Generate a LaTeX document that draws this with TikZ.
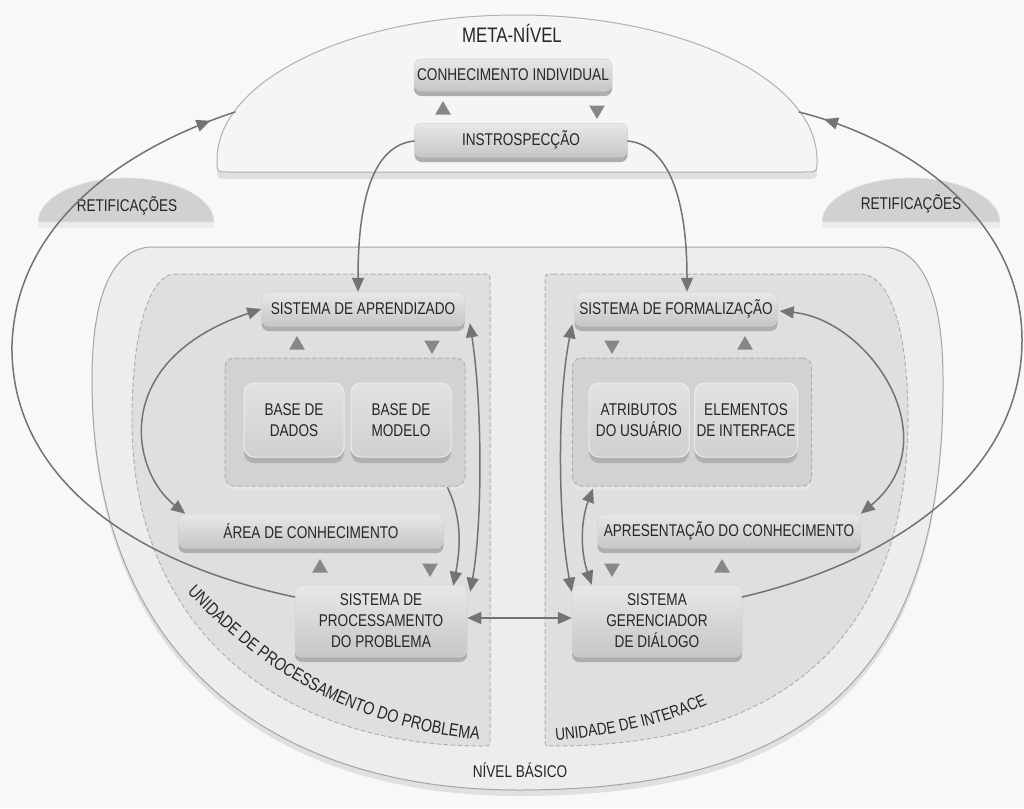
\documentclass[tikz,border=0pt]{standalone}
\usepackage{fontspec}
\setmainfont{Liberation Sans}[FakeStretch=0.8]
\usetikzlibrary{arrows.meta,shapes.geometric,shadows,calc,decorations.markings,decorations.text}

\definecolor{bgc}{HTML}{F8F8F8}
\definecolor{basefill}{HTML}{EDEDED}
\definecolor{baseedge}{HTML}{A4A4A4}
\definecolor{unitfill}{HTML}{DFDFDF}
\definecolor{unitedge}{HTML}{B0B0B0}
\definecolor{contfill}{HTML}{D2D2D2}
\definecolor{boxtop}{HTML}{E8E8E8}
\definecolor{boxbot}{HTML}{C6C6C6}
\definecolor{boxedge}{HTML}{D4D4D4}
\definecolor{shadec}{HTML}{AEAEAE}
\definecolor{linec}{HTML}{737373}
\definecolor{tric}{HTML}{878787}
\definecolor{txt}{HTML}{262626}
\definecolor{domefill}{HTML}{F5F5F5}
\definecolor{domeedge}{HTML}{B0B0B0}
\definecolor{retfill}{HTML}{D1D1D1}
\definecolor{basetop}{HTML}{E2E2E2}
\definecolor{basebot}{HTML}{D0D0D0}

\newcommand\lblfont{\fontsize{17}{21}\selectfont}
\newcommand\curvefont{\fontsize{18}{21}\selectfont}
\newcommand\titlefont{\fontsize{21}{25}\selectfont}

\begin{document}
\begin{tikzpicture}[x=1pt,y=-1pt,line cap=round,
  ht/.tip={Triangle[length=14pt,width=12pt]},
  box/.style={draw=boxedge, line width=0.5pt, rounded corners=7pt,
    top color=boxtop, bottom color=boxbot,
    drop shadow={shadow xshift=0pt, shadow yshift=-5pt, fill=shadec, opacity=1},
    font=\lblfont, text=txt, align=center, inner sep=2pt},
  basebox/.style={draw=white!85!gray, line width=1pt, rounded corners=10pt,
    top color=basetop, bottom color=basebot,
    drop shadow={shadow xshift=0pt, shadow yshift=-6pt, fill=shadec, opacity=0.9},
    font=\lblfont, text=txt, align=center, inner sep=2pt},
  container/.style={draw=unitedge, line width=1pt, dash pattern=on 4pt off 3pt,
    rounded corners=9pt, fill=contfill,
    drop shadow={shadow xshift=0pt, shadow yshift=-4pt, fill=black!10, opacity=1}},
  unit/.style={fill=unitfill, draw=unitedge, line width=1pt, dash pattern=on 4pt off 3pt},
  tri/.style={regular polygon, regular polygon sides=3, fill=tric,
    minimum size=18pt, inner sep=0pt},
  trid/.style={tri, shape border rotate=180},
  link/.style={draw, color=linec, line width=1.5pt},
  bigarc/.style={postaction={decorate},
    decoration={markings, mark=at position -26pt with {\arrow{ht}}}},
  plain/.style={font=\lblfont, text=txt, align=center}
]
\useasboundingbox (0,0) rectangle (1024,808);
\fill[bgc] (0,0) rectangle (1024,808);

% basic level
\filldraw[fill=basefill, draw=baseedge, line width=1pt,
  drop shadow={shadow xshift=0pt, shadow yshift=-6pt, fill=black!12, opacity=1}]
  (150,247) -- (884,247) .. controls (925,250) and (943,300) .. (943,380)
  .. controls (945,690) and (790,790) .. (518,790)
  .. controls (275,790) and (92,660) .. (92,380)
  .. controls (92,300) and (110,250) .. (150,247) -- cycle;

% problem processing unit
\filldraw[unit]
  (175,274) -- (482,274) .. controls (490,274) and (490,274) .. (490,282)
  -- (490,738) .. controls (490,746) and (490,746) .. (483,746)
  .. controls (280,746) and (132,630) .. (132,420)
  .. controls (132,330) and (150,274) .. (175,274) -- cycle;

% interaction unit
\filldraw[unit]
  (553,274) -- (860,274) .. controls (890,274) and (908,330) .. (908,420)
  .. controls (906,650) and (770,746) .. (553,746)
  .. controls (545,746) and (545,746) .. (545,738) -- (545,282)
  .. controls (545,274) and (545,274) .. (553,274) -- cycle;

\path[decorate, decoration={text along path, text align=center,
  text={|\curvefont\color{txt}|UNIDADE DE PROCESSAMENTO DO PROBLEMA}}]
  (178,583) .. controls (252,662) and (340,728) .. (492,741);
\path[decorate, decoration={text along path, text align=center,
  text={|\lblfont\color{txt}|UNIDADE DE INTERACE}}]
  (546,741) .. controls (610,737) and (670,724) .. (716,700);

\node[plain] (nb) at (520,770) {NÍVEL BÁSICO};

% rectification caps
\filldraw[fill=retfill, draw=white!80!gray, line width=0.6pt,
  drop shadow={shadow xshift=0pt, shadow yshift=-6pt, fill=black!8, opacity=1}]
  (38,222) arc[start angle=180, end angle=360, x radius=88, y radius=44] -- cycle;
\filldraw[fill=retfill, draw=white!80!gray, line width=0.6pt,
  drop shadow={shadow xshift=0pt, shadow yshift=-6pt, fill=black!8, opacity=1}]
  (822,222) arc[start angle=180, end angle=360, x radius=89, y radius=44] -- cycle;
\node[plain] (retl) at (127,206) {RETIFICAÇÕES};
\node[plain] (retr) at (911,204) {RETIFICAÇÕES};

% meta level dome
\filldraw[fill=domefill, draw=domeedge, line width=1pt,
  drop shadow={shadow xshift=0pt, shadow yshift=-7pt, fill=black!12, opacity=1}]
  (217,160) arc[start angle=180, end angle=360, x radius=300, y radius=145]
  .. controls (817,172) .. (805,172) -- (229,172) .. controls (217,172) .. (217,160) -- cycle;
\node[font=\titlefont, text=txt] (meta) at (512,33) {META-NÍVEL};
\coordinate (domeL) at (235,112);
\coordinate (domeR) at (799,112);

\node[box, minimum width=198pt, minimum height=32pt] (ci) at (513,75) {CONHECIMENTO INDIVIDUAL};
\node[box, minimum width=213pt, minimum height=34pt] (inst) at (521,140) {INSTROSPECÇÃO};
\node[tri] (t1) at (443,110) {};
\node[trid] (t2) at (597,110) {};

% left unit contents
\node[box, minimum width=203pt, minimum height=34pt] (sa) at (363,309) {SISTEMA DE APRENDIZADO};
\node[container, minimum width=240pt, minimum height=128pt] (lc) at (345,422) {};
\node[basebox, minimum width=100pt, minimum height=74pt] (bd) at (294,420) {BASE DE\\DADOS};
\node[basebox, minimum width=100pt, minimum height=74pt] (bm) at (401,420) {BASE DE\\MODELO};
\node[box, minimum width=265pt, minimum height=34pt] (ac) at (311,531) {ÁREA DE CONHECIMENTO};
\node[box, minimum width=172pt, minimum height=72pt] (spp) at (381,621) {SISTEMA DE\\PROCESSAMENTO\\DO PROBLEMA};
\node[tri] (t3) at (297,345) {};
\node[trid] (t4) at (432,345) {};
\node[tri] (t5) at (320,568) {};
\node[trid] (t6) at (430,568) {};

% right unit contents
\node[box, minimum width=203pt, minimum height=34pt] (sf) at (676,309) {SISTEMA DE FORMALIZAÇÃO};
\node[container, minimum width=239pt, minimum height=128pt] (rc) at (692,422) {};
\node[basebox, minimum width=100pt, minimum height=74pt] (au) at (639,420) {ATRIBUTOS\\DO USUÁRIO};
\node[basebox, minimum width=100pt, minimum height=74pt] (ei) at (746,420) {ELEMENTOS\\DE INTERFACE};
\node[box, minimum width=263pt, minimum height=34pt] (apc) at (729,531) {APRESENTAÇÃO DO CONHECIMENTO};
\node[box, minimum width=170pt, minimum height=72pt] (sgd) at (657,621) {SISTEMA\\GERENCIADOR\\DE DIÁLOGO};
\node[trid] (t7) at (612,345) {};
\node[tri] (t8) at (745,345) {};
\node[trid] (t9) at (612,568) {};
\node[tri] (t10) at (722,568) {};

% connectors
\draw[link,-ht] ($(inst.west)+(0,1)$) .. controls +(-40,4) and +(0,-95) .. ($(sa.north)+(-5,0)$);
\draw[link,-ht] ($(inst.east)+(0,1)$) .. controls +(40,4) and +(0,-95) .. ($(sf.north)+(11,0)$);
\draw[link,ht-ht] ($(ac.north west)+(7,0)$) .. controls (130,470) and (110,360) .. (sa.west);
\draw[link,ht-ht] ($(spp.north east)+(3,7)$) .. controls (483,520) and (482,400) .. ($(sa.south east)+(5,-3)$);
\draw[link,-ht] ($(lc.south east)+(-18,1)$) .. controls (463,520) and (460,550) .. ($(spp.north east)+(-14,1)$);
\draw[link,ht-ht] ($(spp.east)+(0,-3)$) -- ($(sgd.west)+(0,-3)$);
\draw[link,ht-ht] ($(sgd.north west)+(0,7)$) .. controls (558,520) and (557,400) .. ($(sf.south west)+(-2,-2)$);
\draw[link,ht-ht] ($(sgd.north west)+(20,0)$) .. controls (580,550) and (581,520) .. ($(rc.south west)+(21,2)$);
\draw[link,ht-ht] ($(sf.east)+(2,2)$) .. controls (870,320) and (950,440) .. (apc.north east);

% rectification loops back to the meta level
\draw[link,bigarc] ($(spp.west)+(0,-24)$) .. controls (120,560) and (10,470) .. (12,345)
  .. controls (16,225) and (120,150) .. (domeL);
\draw[link,bigarc] ($(sgd.east)+(0,-24)$) .. controls (900,560) and (1022,470) .. (1022,340)
  .. controls (1022,220) and (910,140) .. (domeR);
\end{tikzpicture}
\end{document}
